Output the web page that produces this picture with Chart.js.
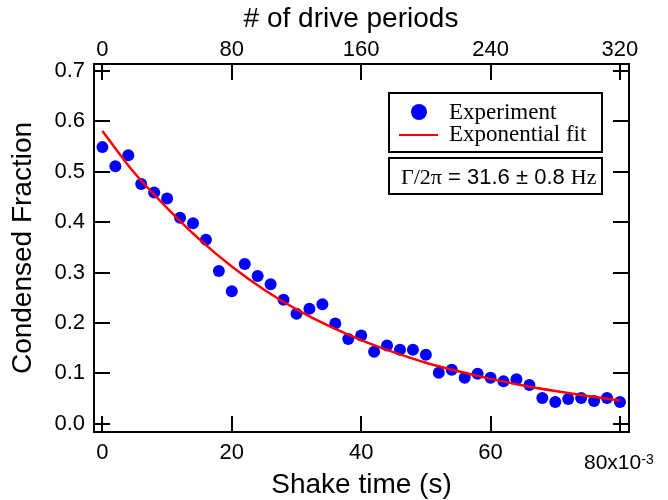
<!DOCTYPE html>
<html lang="en">
<head>
    <meta charset="UTF-8">
    <title>Condensed fraction vs shake time</title>
    <script src="https://cdn.jsdelivr.net/npm/chart.js"></script>
    <style>
        body { margin: 0; background: #fff; }
        #wrap { position: relative; width: 668px; height: 500px; }
        #wrap div { position: absolute; color: #000; white-space: nowrap; }
        .sans { font-family: "Liberation Sans", Arial, sans-serif; }
        .serif { font-family: "Liberation Serif", "Times New Roman", serif; }
        .top-title { left: 201px; width: 300px; top: 3px; text-align: center; font-size: 28px; line-height: 30px; }
        .exp80 { left: 584px; top: 451px; font-size: 21px; line-height: 22px; }
        .exp80 sup { font-size: 14px; position: relative; top: -3px; vertical-align: top; }
        .box { border: 2px solid #000; box-sizing: border-box; background: #fff; }
        .legend { left: 388px; top: 92px; width: 215px; height: 61px; }
        .rate { left: 388px; top: 157px; width: 215px; height: 38px; }
        .dot { left: 21px; top: 10px; width: 16px; height: 16px; border-radius: 50%; background: #0000ff; }
        .fitline { left: 9px; top: 40px; width: 39px; height: 2px; background: #ff0000; }
        .txt { font-size: 23px; line-height: 24px; }
    </style>
</head>
<body>
    <div id="wrap">
        <canvas id="grafico" width="668" height="500"></canvas>
        <div class="top-title sans"># of drive periods</div>
        <div class="exp80 sans">80x10<sup>-3</sup></div>
        <div class="box legend">
            <div class="dot"></div>
            <div class="txt serif" style="left:59px;top:6px">Experiment</div>
            <div class="fitline"></div>
            <div class="txt serif" style="left:59px;top:28px">Exponential fit</div>
        </div>
        <div class="box rate">
            <div class="txt" style="left:11px;top:6px;font-size:22px"><span class="serif">&Gamma;/2&pi;</span><span class="sans"> = 31.6 &plusmn; 0.8 </span><span class="serif">Hz</span></div>
        </div>
    </div>

    <script>
        // shake time in ms (axis shows x10^-3 s)
        const shakeTime = [0, 2, 4, 6, 8, 10, 12, 14, 16, 18, 20, 22, 24, 26, 28, 30, 32, 34, 36, 38, 40,
                           42, 44, 46, 48, 50, 52, 54, 56, 58, 60, 62, 64, 66, 68, 70, 72, 74, 76, 78, 80];
        const condensed = [0.549, 0.511, 0.533, 0.476, 0.459, 0.447, 0.409, 0.398, 0.365, 0.303, 0.263,
                           0.317, 0.293, 0.277, 0.246, 0.218, 0.228, 0.237, 0.199, 0.168, 0.175,
                           0.143, 0.155, 0.147, 0.147, 0.137, 0.101, 0.107, 0.091, 0.099, 0.091,
                           0.084, 0.088, 0.077, 0.051, 0.043, 0.049, 0.051, 0.045, 0.051, 0.043];
        // fit curve
        const fitTime = [0, 5, 10, 15, 20, 25, 30, 35, 40, 45, 50, 55, 60, 65, 70, 75, 80];
        const fitValue = [0.581, 0.497, 0.428, 0.366, 0.312, 0.266, 0.227, 0.194, 0.166,
                          0.142, 0.121, 0.104, 0.089, 0.076, 0.065, 0.055, 0.046];

        const bottomTicks = [0, 20, 40, 60, 80];
        const topTicks = [0, 80, 160, 240, 320];
        const yTicks = [0, 0.1, 0.2, 0.3, 0.4, 0.5, 0.6, 0.7];

        const xMin = -1.3, xMax = 81.4;
        const yMin = -0.0165, yMax = 0.714;
        const tickLen = 16;

        Chart.defaults.font.family = "'Liberation Sans', Arial, sans-serif";
        Chart.defaults.color = "#000";

        const setTicks = (list) => (s) => { s.ticks = list.map(v => ({ value: v })); };
        const noGrid = { drawOnChartArea: false, drawTicks: false };
        const frame = { display: true, color: "#000", width: 2 };

        // ticks pointing into the plot on all four sides
        const innerTicks = {
            id: "innerTicks",
            afterDraw(chart) {
                const { ctx, chartArea: a, scales } = chart;
                ctx.save();
                ctx.strokeStyle = "#000";
                ctx.lineWidth = 2;
                ctx.beginPath();
                scales.x.ticks.forEach(t => {
                    const px = Math.round(scales.x.getPixelForValue(t.value));
                    ctx.moveTo(px, a.bottom); ctx.lineTo(px, a.bottom - tickLen);
                });
                scales.x2.ticks.forEach(t => {
                    const px = Math.round(scales.x2.getPixelForValue(t.value));
                    ctx.moveTo(px, a.top); ctx.lineTo(px, a.top + tickLen);
                });
                scales.y.ticks.forEach(t => {
                    const py = Math.round(scales.y.getPixelForValue(t.value));
                    ctx.moveTo(a.left, py); ctx.lineTo(a.left + tickLen, py);
                });
                scales.y2.ticks.forEach(t => {
                    const py = Math.round(scales.y2.getPixelForValue(t.value));
                    ctx.moveTo(a.right, py); ctx.lineTo(a.right - tickLen, py);
                });
                ctx.stroke();
                ctx.restore();
            }
        };

        new Chart(document.getElementById("grafico"), {
            type: "scatter",
            data: {
                datasets: [{
                    label: "Experiment",
                    data: shakeTime.map((t, i) => ({ x: t, y: condensed[i] })),
                    backgroundColor: "#0000ff",
                    borderWidth: 0,
                    pointRadius: 6,
                    order: 2
                }, {
                    label: "Exponential fit",
                    data: fitTime.map((t, i) => ({ x: t, y: fitValue[i] })),
                    showLine: true,
                    borderColor: "#ff0000",
                    borderWidth: 2.5,
                    pointRadius: 0,
                    cubicInterpolationMode: "monotone",
                    order: 1
                }]
            },
            options: {
                responsive: false,
                animation: false,
                devicePixelRatio: 1,
                layout: { padding: 0 },
                plugins: { legend: { display: false }, tooltip: { enabled: false } },
                scales: {
                    x: {
                        type: "linear", position: "bottom", min: xMin, max: xMax,
                        afterBuildTicks: setTicks(bottomTicks),
                        afterFit: s => { s.height = 68; },
                        grid: noGrid, border: frame,
                        ticks: {
                            font: { size: 22 }, padding: 8, maxRotation: 0,
                            callback: v => v === 80 ? "" : v
                        },
                        title: {
                            display: true, text: "Shake time (s)",
                            font: { size: 28, lineHeight: 1 }, padding: { top: 0, bottom: 1 }
                        }
                    },
                    x2: {
                        type: "linear", position: "top", min: xMin * 4, max: xMax * 4,
                        afterBuildTicks: setTicks(topTicks),
                        afterFit: s => { s.height = 64; },
                        grid: noGrid, border: frame,
                        ticks: { font: { size: 22 }, padding: 1, maxRotation: 0 }
                    },
                    y: {
                        type: "linear", position: "left", min: yMin, max: yMax,
                        afterBuildTicks: setTicks(yTicks),
                        afterFit: s => { s.width = 94; },
                        grid: noGrid, border: frame,
                        ticks: { font: { size: 22 }, padding: 9, callback: v => v.toFixed(1) },
                        title: {
                            display: true, text: "Condensed Fraction",
                            font: { size: 28, lineHeight: 1 }, padding: { top: 9, bottom: 0 }
                        }
                    },
                    y2: {
                        type: "linear", position: "right", min: yMin, max: yMax,
                        afterBuildTicks: setTicks(yTicks),
                        afterFit: s => { s.width = 39; },
                        grid: noGrid, border: frame,
                        ticks: { display: false }
                    }
                }
            },
            plugins: [innerTicks]
        });
    </script>
</body>
</html>
